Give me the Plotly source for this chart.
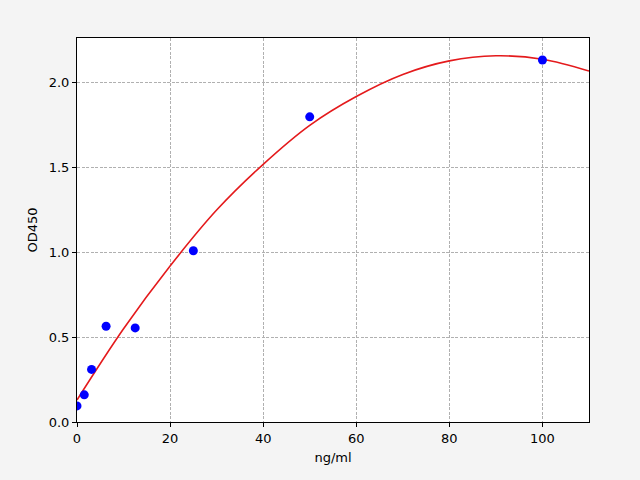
import plotly.graph_objects as go

# standard concentrations and measured OD
conc = [0, 1.5625, 3.125, 6.25, 12.5, 25, 50, 100]
od = [0.095, 0.16, 0.31, 0.565, 0.555, 1.01, 1.80, 2.135]

# fitted curve
fit_x = [0, 10, 20, 30, 40, 50, 60, 70, 80, 90, 100, 110]
fit_y = [0.13, 0.55, 0.92, 1.25, 1.52, 1.75, 1.92, 2.05, 2.13, 2.16, 2.14, 2.07]

fig = go.Figure()
fig.add_trace(go.Scatter(x=fit_x, y=fit_y, mode='lines', line_shape='spline',
                         line=dict(color='#e41a1c', width=1.6), showlegend=False))
fig.add_trace(go.Scatter(x=conc, y=od, mode='markers',
                         marker=dict(color='#0000ff', size=9), showlegend=False))

axis_style = dict(showline=True, linecolor='black', linewidth=1, mirror=True,
                  ticks='outside', ticklen=4, tickcolor='black',
                  showgrid=True, gridcolor='#b0b0b0', griddash='3px,1.5px', gridwidth=0.8,
                  zeroline=False, tickfont=dict(size=13, color='black'))

fig.update_xaxes(range=[0, 110], tickvals=[0, 20, 40, 60, 80, 100],
                 title=dict(text='ng/ml', font=dict(size=13, color='black'), standoff=8),
                 **axis_style)
fig.update_yaxes(range=[0, 2.265], tickvals=[0, 0.5, 1.0, 1.5, 2.0], tickformat='.1f',
                 title=dict(text='OD450', font=dict(size=13, color='black'), standoff=8),
                 **axis_style)

fig.update_layout(width=640, height=480, paper_bgcolor='#f4f4f4', plot_bgcolor='white',
                  margin=dict(l=77, r=51, t=38, b=58),
                  font=dict(family='DejaVu Sans', color='black'))

fig.write_html("out.html", config={'displayModeBar': False},
               post_script="document.body.style.margin='0';")
